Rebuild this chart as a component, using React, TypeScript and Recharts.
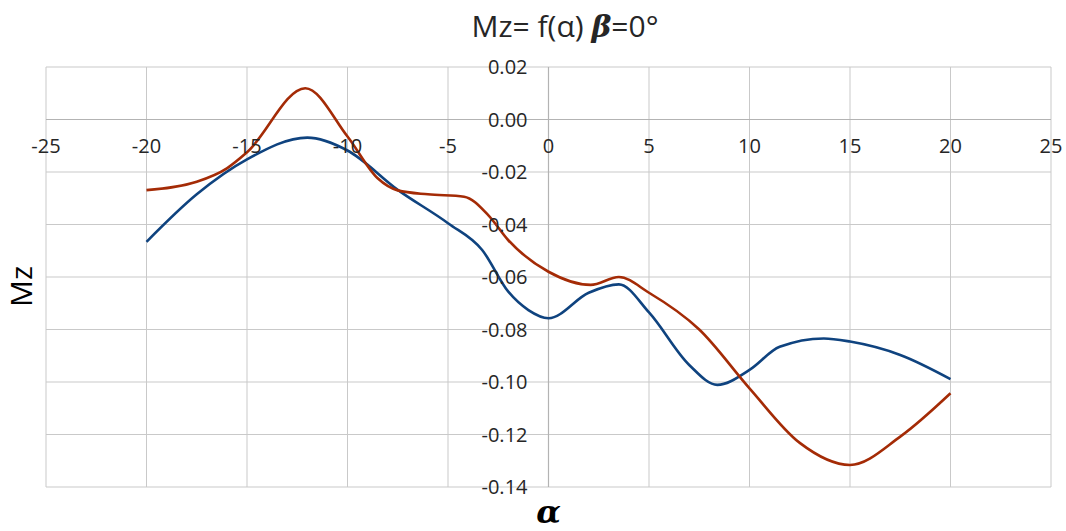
import { LineChart, Line, XAxis, YAxis, CartesianGrid, ReferenceLine } from 'recharts';

// alpha (deg) / Mz readings
const blueAlpha = [-20, -17.5, -15, -12, -10, -7.5, -5, -3.3, -2, -1, 0, 2, 3.5, 5, 7, 8.4, 10, 11.5, 13.7, 15, 17.5, 20];
const blueMz = [-0.0466, -0.0285, -0.0152, -0.0069, -0.0118, -0.0268, -0.0395, -0.0497, -0.0656, -0.0726, -0.0757, -0.066, -0.0628, -0.0735, -0.0935, -0.1011, -0.0954, -0.0866, -0.0834, -0.0846, -0.0897, -0.0989];

const redAlpha = [-20, -17.5, -16, -15, -12.1, -10, -8.5, -7.5, -6, -4.2, -3, -2, 0, 2.1, 3.5, 5, 7.5, 10, 12.5, 15, 17.5, 20];
const redMz = [-0.0269, -0.0237, -0.0186, -0.0125, 0.0119, -0.0065, -0.0224, -0.027, -0.0285, -0.0294, -0.0364, -0.046, -0.058, -0.063, -0.06, -0.066, -0.08, -0.1024, -0.1232, -0.1316, -0.1208, -0.1043];

const xTicks = [-25, -20, -15, -10, -5, 0, 5, 10, 15, 20, 25];
const yTicks = [-0.14, -0.12, -0.1, -0.08, -0.06, -0.04, -0.02, 0, 0.02];

const blueData = blueAlpha.map((a, i) => ({ a, v: blueMz[i] }));
const redData = redAlpha.map((a, i) => ({ a, v: redMz[i] }));

const W = 1066;
const H = 531;
const FONT = '"Open Sans", sans-serif';
// where the axes cross (alpha=0, Mz=0)
const ZERO_X = 548.5;
const ZERO_Y = 119.2;

const XTick = ({ x, payload }: any) => (
  <text x={x} y={ZERO_Y + 34} textAnchor="middle" fontSize={20} fill="#262626" fontFamily={FONT}>
    {payload.value}
  </text>
);

const YTick = ({ y, payload }: any) => (
  <text x={ZERO_X - 21} y={y + 7} textAnchor="end" fontSize={20} fill="#262626" fontFamily={FONT}>
    {Number(payload.value).toFixed(2)}
  </text>
);

export default function App() {
  return (
    <div style={{ position: 'relative', width: W, height: H, background: '#fff', fontFamily: FONT, overflow: 'hidden' }}>
      <style>{'body{margin:0;overflow:hidden}'}</style>
      <div style={{ position: 'absolute', left: 0, width: W, top: 8, textAlign: 'center', fontSize: 30, color: '#262626', paddingLeft: 64, boxSizing: 'border-box', lineHeight: '36px' }}>
        Mz= f(α) <span style={{ fontWeight: 'bold', fontStyle: 'italic', fontFamily: '"DejaVu Serif", serif' }}>β</span>=0°
      </div>
      <div style={{ position: 'absolute', left: 6, top: 266, width: 30, height: 40, display: 'flex', alignItems: 'center', justifyContent: 'center' }}>
        <span style={{ transform: 'rotate(-90deg)', fontSize: 30, color: '#000', whiteSpace: 'nowrap' }}>Mz</span>
      </div>
      <div style={{ position: 'absolute', left: ZERO_X - 30, width: 60, top: 494, textAlign: 'center', fontSize: 32, lineHeight: '36px', fontWeight: 'bold', fontStyle: 'italic', fontFamily: '"DejaVu Serif", serif', color: '#000' }}>
        α
      </div>
      <LineChart width={W} height={H} margin={{ top: 67, right: 15, left: 38, bottom: 36 }}>
        <CartesianGrid stroke="#c9c9c9" strokeWidth={1} />
        <XAxis
          type="number"
          dataKey="a"
          domain={[-25, 25]}
          ticks={xTicks}
          allowDataOverflow
          height={8}
          axisLine={false}
          tickLine={false}
          tick={XTick}
        />
        <YAxis
          type="number"
          domain={[-0.14, 0.02]}
          ticks={yTicks}
          allowDataOverflow
          width={8}
          axisLine={false}
          tickLine={false}
          tick={YTick}
        />
        <ReferenceLine x={0} stroke="#b3b3b3" strokeWidth={1.2} />
        <ReferenceLine y={0} stroke="#b3b3b3" strokeWidth={1.2} />
        <Line data={blueData} dataKey="v" type="monotone" stroke="#0f437f" strokeWidth={2.6} dot={false} isAnimationActive={false} />
        <Line data={redData} dataKey="v" type="monotone" stroke="#a42b06" strokeWidth={2.6} dot={false} isAnimationActive={false} />
      </LineChart>
    </div>
  );
}
